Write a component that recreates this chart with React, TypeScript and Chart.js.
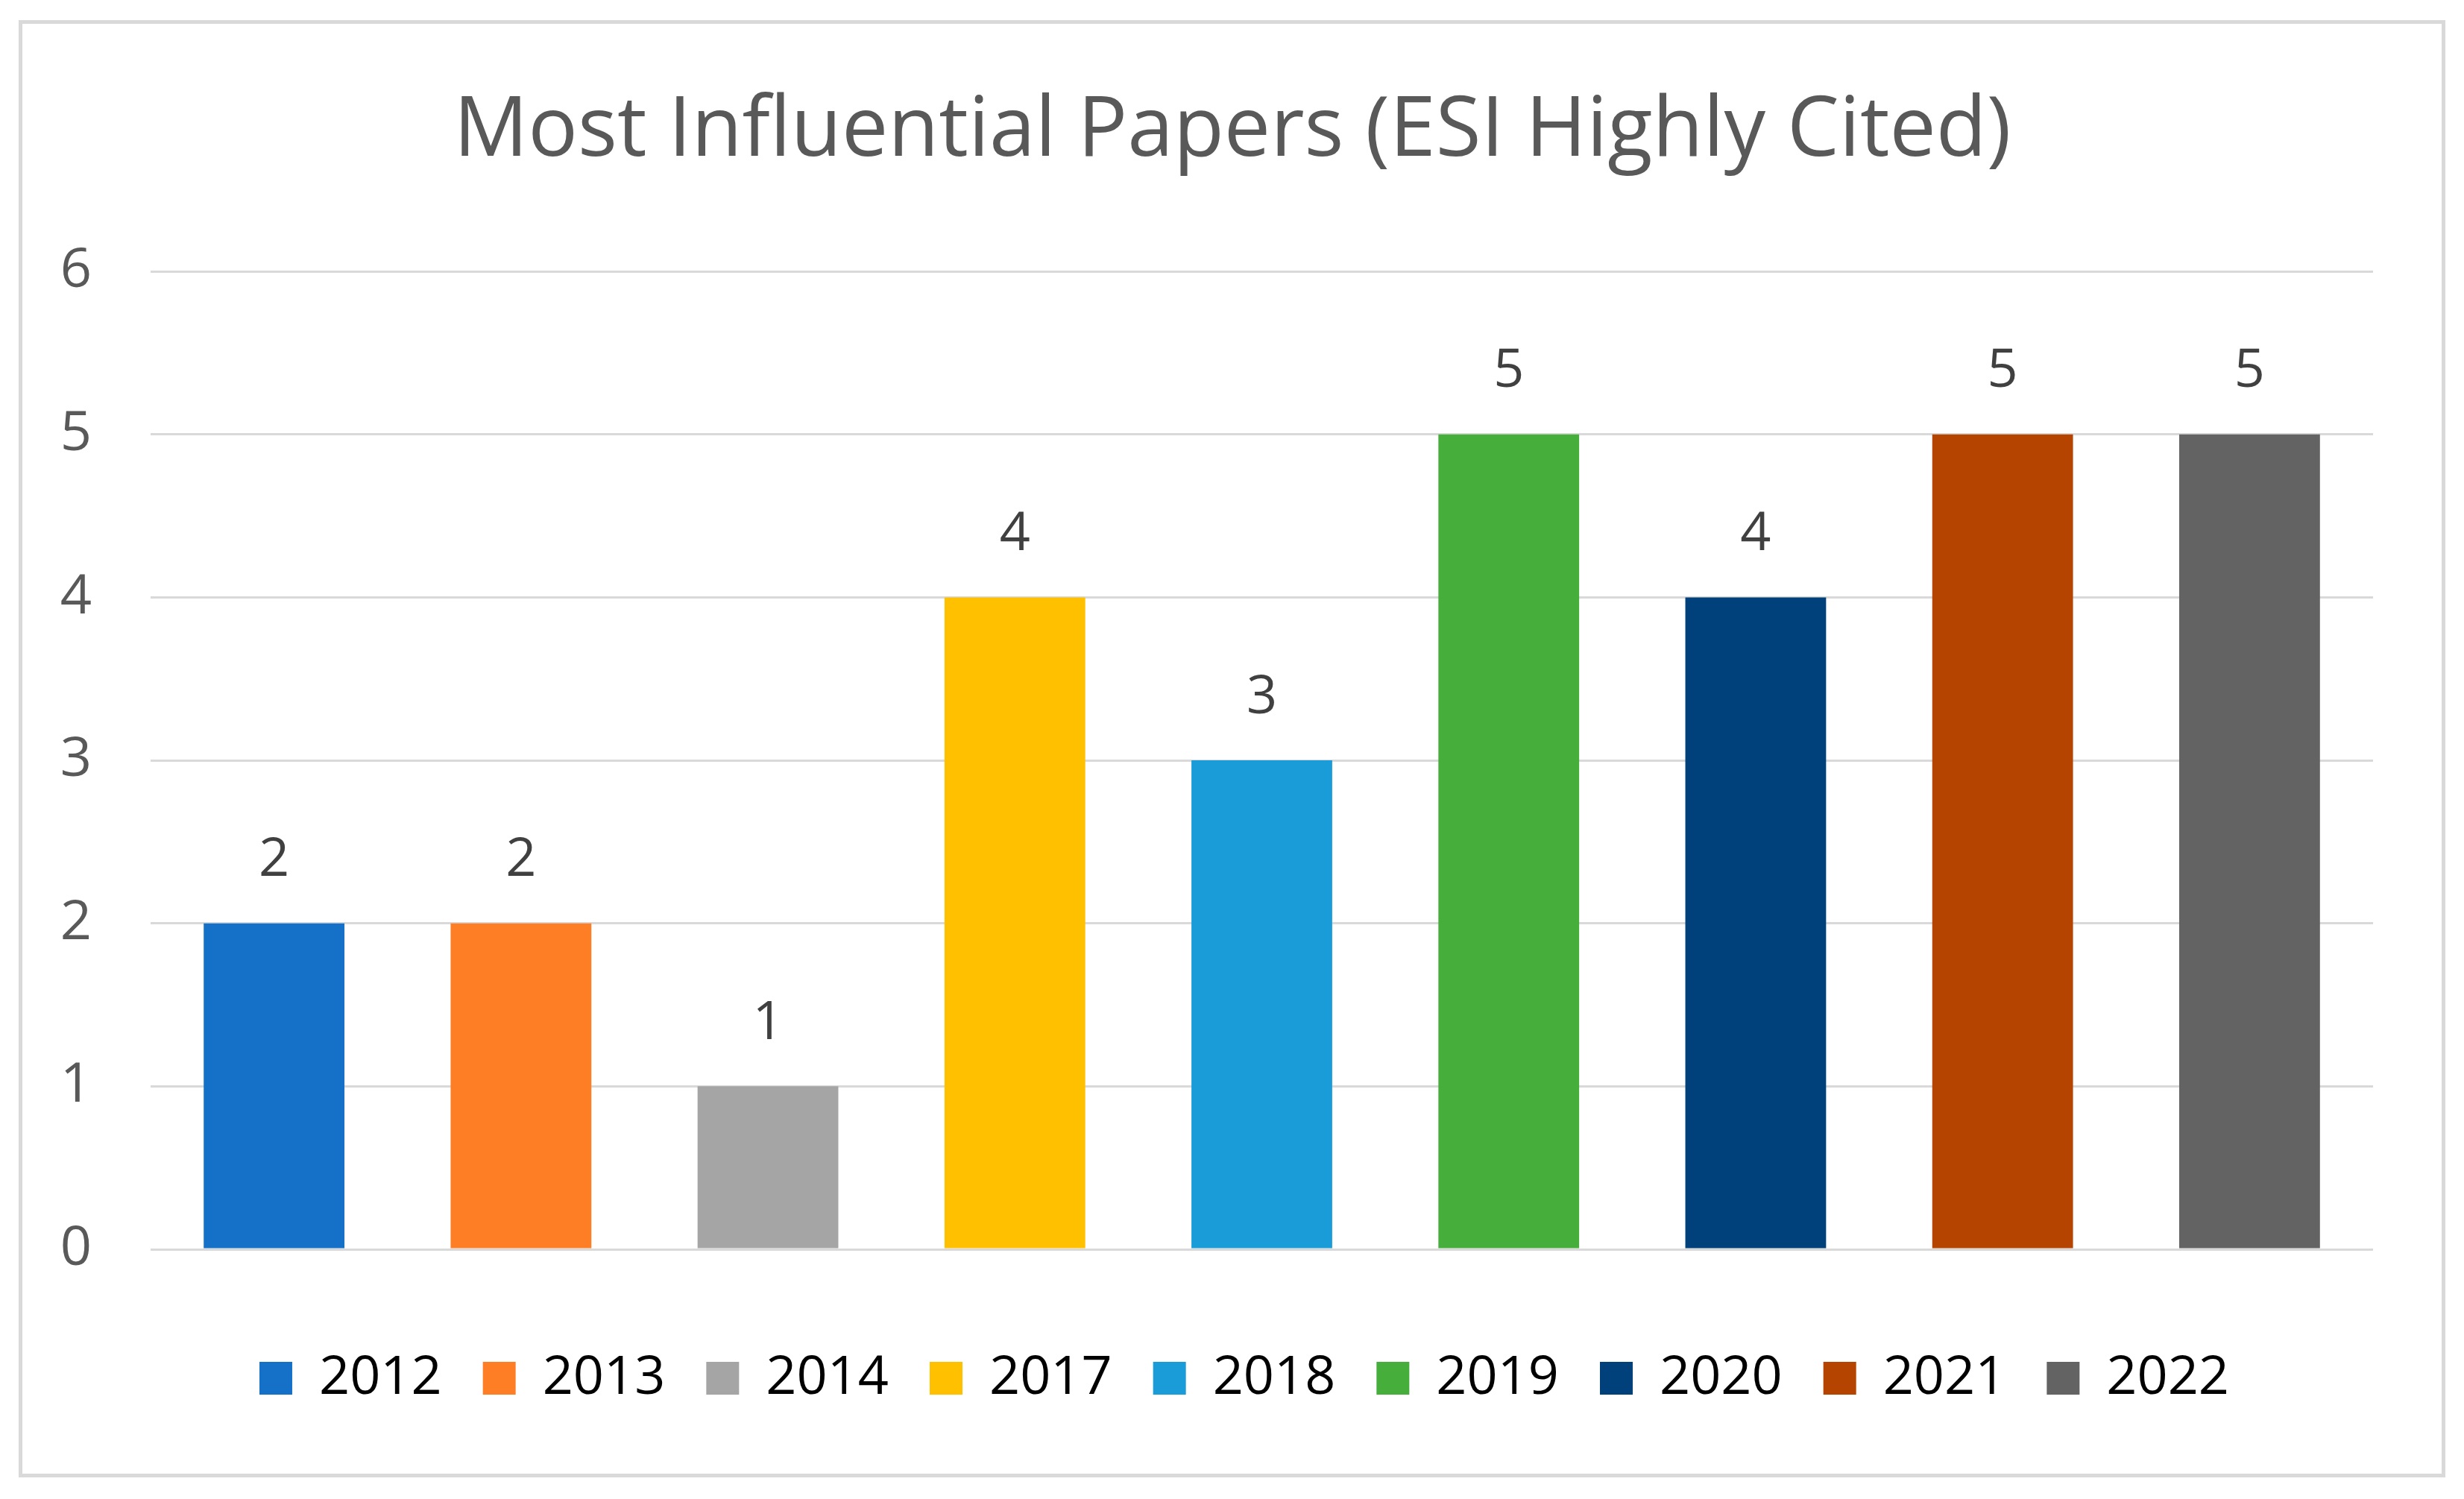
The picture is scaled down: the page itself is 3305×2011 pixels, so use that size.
import React, { useEffect, useRef } from "react";
import { Chart, registerables } from "chart.js";

Chart.register(...registerables);

const TITLE = "Most Influential Papers (ESI Highly Cited)";
const years = ["2012", "2013", "2014", "2017", "2018", "2019", "2020", "2021", "2022"];
const papers = [2, 2, 1, 4, 3, 5, 4, 5, 5];
const barColors = ["#1571C8", "#FD7E24", "#A5A5A5", "#FFC000", "#1A9CD8", "#46AF3C", "#00407B", "#B54400", "#636363"];
const yMin = 0;
const yMax = 6;
const yStep = 1;

const FONT = "'Open Sans', 'DejaVu Sans', sans-serif";
const W = 3245;
const H = 1945;

const valueLabels = {
  id: "valueLabels",
  afterDatasetsDraw(chart: any) {
    const ctx = chart.ctx;
    const meta = chart.getDatasetMeta(0);
    ctx.save();
    ctx.font = `72px ${FONT}`;
    ctx.fillStyle = "#404040";
    ctx.textAlign = "center";
    ctx.textBaseline = "middle";
    meta.data.forEach((bar: any, i: number) => {
      ctx.fillText(String(papers[i]), bar.x, bar.y - 84);
    });
    ctx.restore();
  },
};

// Re-centre the title and legend boxes horizontally like the reference.
const recenter = {
  id: "recenter",
  beforeDraw(chart: any) {
    const t = chart.titleBlock;
    if (t) {
      t.left = 0;
      t.right = 3246;
      t.width = 3246;
    }
    const l = chart.legend;
    if (l) {
      l.left = 33;
      l.right = 3245;
      l.width = 3212;
    }
  },
};

export default function App() {
  const ref = useRef<HTMLCanvasElement | null>(null);

  useEffect(() => {
    if (!ref.current) return;
    const chart = new Chart(ref.current, {
      type: "bar",
      data: {
        labels: years,
        datasets: [
          {
            label: "Papers",
            data: papers,
            backgroundColor: barColors,
            borderWidth: 0,
            categoryPercentage: 1,
            barPercentage: 0.57,
          },
        ],
      },
      options: {
        animation: false,
        responsive: false,
        devicePixelRatio: 1,
        layout: { padding: { left: 40, right: 92, top: 0, bottom: 82 } },
        plugins: {
          tooltip: { enabled: false },
          title: {
            display: true,
            text: TITLE,
            color: "#595959",
            font: { family: FONT, size: 111, weight: "normal", lineHeight: 1.2 },
            padding: { top: 79, bottom: 120 },
          },
          legend: {
            display: true,
            position: "bottom",
            onClick: () => {},
            labels: {
              color: "#595959",
              font: { family: FONT, size: 72 },
              boxWidth: 44,
              boxHeight: 44,
              padding: 55,
              generateLabels: () =>
                years.map((y, i) => ({
                  text: y,
                  fillStyle: barColors[i],
                  strokeStyle: barColors[i],
                  lineWidth: 0,
                  hidden: false,
                  index: i,
                  datasetIndex: 0,
                })),
            },
          },
        },
        scales: {
          x: {
            grid: { display: false },
            border: { display: false },
            ticks: { display: false },
            afterFit: (scale: any) => {
              scale.height = 82;
            },
          },
          y: {
            min: yMin,
            max: yMax,
            border: { display: false },
            grid: { color: "#D9D9D9", lineWidth: 3, drawTicks: false },
            ticks: {
              stepSize: yStep,
              padding: 79,
              color: "#595959",
              font: { family: FONT, size: 74 },
            },
            afterFit: (scale: any) => {
              scale.width = 132;
            },
          },
        },
      },
      plugins: [valueLabels, recenter],
    });
    return () => chart.destroy();
  }, []);

  return (
    <div
      style={{
        marginLeft: 17,
        marginTop: 19,
        width: 3255,
        height: 1955,
        border: "5px solid #D9D9D9",
        boxSizing: "border-box",
        background: "#FFFFFF",
      }}
    >
      <canvas ref={ref} width={W} height={H} style={{ display: "block", width: W, height: H }} />
    </div>
  );
}
